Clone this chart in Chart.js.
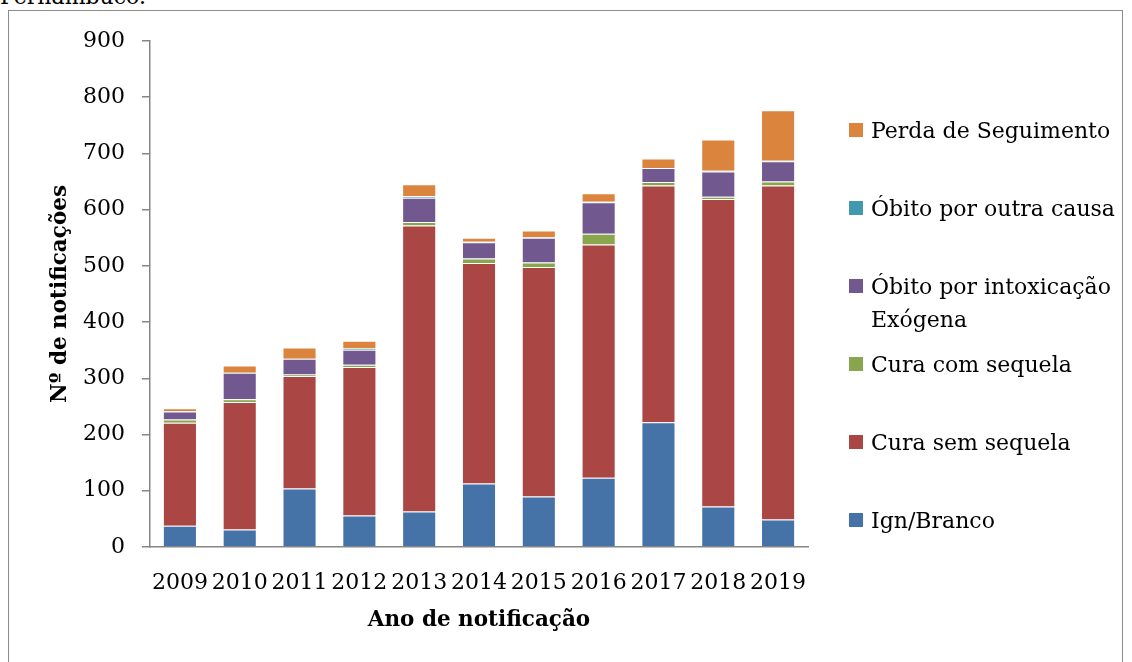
<!DOCTYPE html>
<html>
<head>
<meta charset="utf-8">
<script src="https://cdn.jsdelivr.net/npm/chart.js@4.4.0/dist/chart.umd.min.js"></script>
<style>
  body { margin: 0; background: #fff; overflow: hidden; font-family: "DejaVu Serif", serif; }
  #wrap { position: relative; width: 1132px; height: 662px; }
  #frame { position: absolute; left: 8px; top: 10px; width: 1115px; height: 700px; border: 1.5px solid #8c8c8c; box-sizing: border-box; }
  #caption { position: absolute; left: 0; top: -15px; font-size: 22px; line-height: 24px; color: #000; }
  #legend { position: absolute; left: 849px; top: 0; }
  .item { position: absolute; left: 0; white-space: nowrap; font-size: 22px; line-height: 33px; color: #000; }
  .item span.box { position: absolute; left: 0; top: 9px; width: 14px; height: 14px; }
  .item span.txt { position: absolute; left: 22px; top: 0; }
  canvas { position: absolute; left: 0; top: 0; }
</style>
</head>
<body>
<div id="wrap">
  <div id="caption">Pernambuco.</div>
  <div id="frame"></div>
  <canvas id="chart" width="1132" height="662"></canvas>
  <div id="legend"></div>
</div>
<script>
// notification outcomes per year
const years = ['2009', '2010', '2011', '2012', '2013', '2014', '2015', '2016', '2017', '2018', '2019'];
const ignBranco = [38, 31, 104, 56, 63, 113, 90, 123, 222, 72, 49];
const curaSemSequela = [183, 227, 200, 264, 509, 392, 408, 415, 421, 547, 594];
const curaComSequela = [6, 5, 3, 4, 6, 8, 8, 19, 6, 4, 7];
const obitoIntoxicacao = [14, 47, 28, 27, 43, 29, 44, 56, 25, 45, 36];
const obitoOutraCausa = [1, 0, 0, 2, 3, 1, 1, 1, 0, 1, 1];
const perdaSeguimento = [5, 13, 20, 14, 21, 7, 12, 15, 17, 56, 90];
const yTicks = [0, 100, 200, 300, 400, 500, 600, 700, 800, 900];

const series = [
    { label: 'Ign/Branco', data: ignBranco, color: '#4572A7' },
    { label: 'Cura sem sequela', data: curaSemSequela, color: '#AA4643' },
    { label: 'Cura com sequela', data: curaComSequela, color: '#89A54E' },
    { label: ['Óbito por intoxicação', 'Exógena'], data: obitoIntoxicacao, color: '#71588F' },
    { label: 'Óbito por outra causa', data: obitoOutraCausa, color: '#4198AF' },
    { label: 'Perda de Seguimento', data: perdaSeguimento, color: '#DB843D' }
];

const font = { family: '"DejaVu Serif", serif', size: 22 };
const titleFont = { family: '"DejaVu Serif", serif', size: 21.5, weight: 'bold' };

const chart = new Chart(document.getElementById('chart'), {
    type: 'bar',
    data: {
        labels: years,
        datasets: series.map(s => ({
            label: Array.isArray(s.label) ? s.label.join(' ') : s.label,
            data: s.data,
            backgroundColor: s.color,
            borderColor: 'rgba(255,255,255,0.35)',
            borderWidth: 1,
            barPercentage: 0.57,
            categoryPercentage: 1.0
        }))
    },
    options: {
        responsive: false,
        animation: false,
        layout: { padding: { left: 44, right: 324, top: 41, bottom: 25 } },
        plugins: { legend: { display: false }, tooltip: { enabled: false } },
        scales: {
            x: {
                stacked: true,
                grid: { display: false },
                border: { display: true, color: '#868686', width: 1.5 },
                ticks: { color: '#000', font: font, padding: 15, maxRotation: 0, autoSkip: false },
                title: { display: true, text: 'Ano de notificação', color: '#000', font: titleFont },
                afterFit: s => { s.height = 90; }
            },
            y: {
                stacked: true,
                min: 0,
                max: 900,
                afterBuildTicks: s => { s.ticks = yTicks.map(v => ({ value: v })); },
                grid: { drawOnChartArea: false, drawTicks: true, tickLength: 8, color: '#868686', lineWidth: 1.5 },
                border: { display: true, color: '#868686', width: 1.5 },
                ticks: { color: '#000', font: font, padding: 17 },
                title: { display: true, text: 'Nº de notificações', color: '#000', font: titleFont },
                afterFit: s => { s.width = 106; }
            }
        }
    }
});

// legend on the right, top series first, evenly spaced
const legend = document.getElementById('legend');
series.slice().reverse().forEach((s, i) => {
    const item = document.createElement('div');
    item.className = 'item';
    item.style.top = (130 + 78 * i - 16) + 'px';
    const box = document.createElement('span');
    box.className = 'box';
    box.style.background = s.color;
    const txt = document.createElement('span');
    txt.className = 'txt';
    txt.innerHTML = Array.isArray(s.label) ? s.label.join('<br>') : s.label;
    item.appendChild(box);
    item.appendChild(txt);
    legend.appendChild(item);
});
</script>
</body>
</html>
